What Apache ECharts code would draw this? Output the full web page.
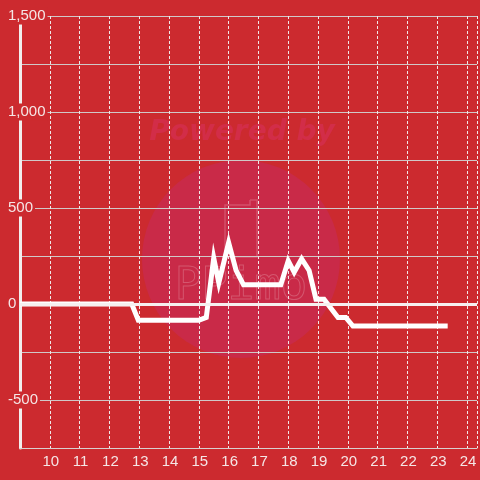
<!DOCTYPE html>
<html>
<head>
<meta charset="utf-8">
<script src="https://cdn.jsdelivr.net/npm/echarts@6/dist/echarts.min.js"></script>
<style>html,body{margin:0;padding:0;background:#cc2a2f;}#c{width:480px;height:480px;}</style>
</head>
<body>
<div id="c"></div>
<script>
// hours of the day
var xs = [9, 12.75, 12.97, 15.0, 15.25, 15.5, 15.67, 16.0, 16.25, 16.5, 17.75, 18.0, 18.2, 18.45, 18.7, 18.93, 19.2, 19.67, 19.93, 20.17, 23.35];
// values
var ys = [0, 0, -85, -85, -70, 240, 110, 320, 175, 100, 100, 225, 165, 235, 175, 25, 25, -70, -70, -115, -115];
var yTickLabels = [-500, 0, 500, 1000, 1500];
var xTickLabels = [10, 11, 12, 13, 14, 15, 16, 17, 18, 19, 20, 21, 22, 23, 24];

var bg = '#cc2a2f';
var data = xs.map(function (x, i) { return [x, ys[i]]; });

var chart = echarts.init(document.getElementById('c'), null, {renderer: 'canvas'});
chart.setOption({
  backgroundColor: bg,
  animation: false,
  graphic: [
    {type: 'circle', z: -10, shape: {cx: 241, cy: 259, r: 99}, style: {fill: '#c92a48'}},
    {type: 'text', z: -10, x: 242, y: 133, style: {text: 'Powered by', font: 'italic bold 28px "DejaVu Sans", sans-serif', fill: '#d22d48', textAlign: 'center', textVerticalAlign: 'middle'}},
    {type: 'polyline', z: -10, shape: {points: [[250, 200], [257, 200], [257, 257], [225, 257], [225, 205], [250, 205], [250, 200]]}, style: {fill: 'none', stroke: '#d4506a', lineWidth: 1.5}},
    {type: 'text', z: -10, x: 241, y: 288, style: {text: 'PPimo', font: '44px "DejaVu Sans Mono", monospace', fill: 'none', stroke: '#d4566e', lineWidth: 1, textAlign: 'center', textVerticalAlign: 'middle'}}
  ],
  grid: {left: 20, right: 0, top: 16, bottom: 32, containLabel: false},
  xAxis: {
    type: 'value', min: 9, max: 9 + 460 / 30, interval: 1,
    axisLine: {show: true, onZero: false, lineStyle: {color: '#d8d0d0', width: 1}},
    axisTick: {show: false},
    axisLabel: {
      color: '#f5e6e6', fontSize: 15, fontFamily: '"Liberation Sans", Arial, sans-serif', margin: 6,
      padding: [0, 0, 0, 2],
      formatter: function (v) { return xTickLabels.indexOf(v) >= 0 ? String(v) : ''; }
    },
    splitLine: {show: true, lineStyle: {color: '#f0e8e8', width: 1, type: [3, 2]}}
  },
  yAxis: {
    type: 'value', min: -750, max: 1500, interval: 250,
    axisLine: {show: true, onZero: false, lineStyle: {color: '#f2eeee', width: 3}},
    axisTick: {show: false},
    axisLabel: {
      margin: 14, align: 'left',
      formatter: function (v) {
        return yTickLabels.indexOf(v) >= 0 ? '{a|' + v.toLocaleString('en-US') + '}' : '';
      },
      rich: {a: {color: '#f5e6e6', fontSize: 15, fontFamily: '"Liberation Sans", Arial, sans-serif', backgroundColor: bg, padding: [1, 2, 1, 2], lineHeight: 16}}
    },
    splitLine: {show: true, lineStyle: {color: '#d0c8c8', width: 1}}
  },
  series: [{
    type: 'line', data: data, showSymbol: false, symbol: 'none',
    lineStyle: {color: '#ffffff', width: 5, cap: 'butt', join: 'miter'},
    markLine: {
      silent: true, symbol: ['none', 'none'], label: {show: false},
      lineStyle: {color: '#f6f0f0', width: 3, type: 'solid'},
      data: [{yAxis: 0}]
    },
    z: 3
  }]
});
</script>
</body>
</html>
